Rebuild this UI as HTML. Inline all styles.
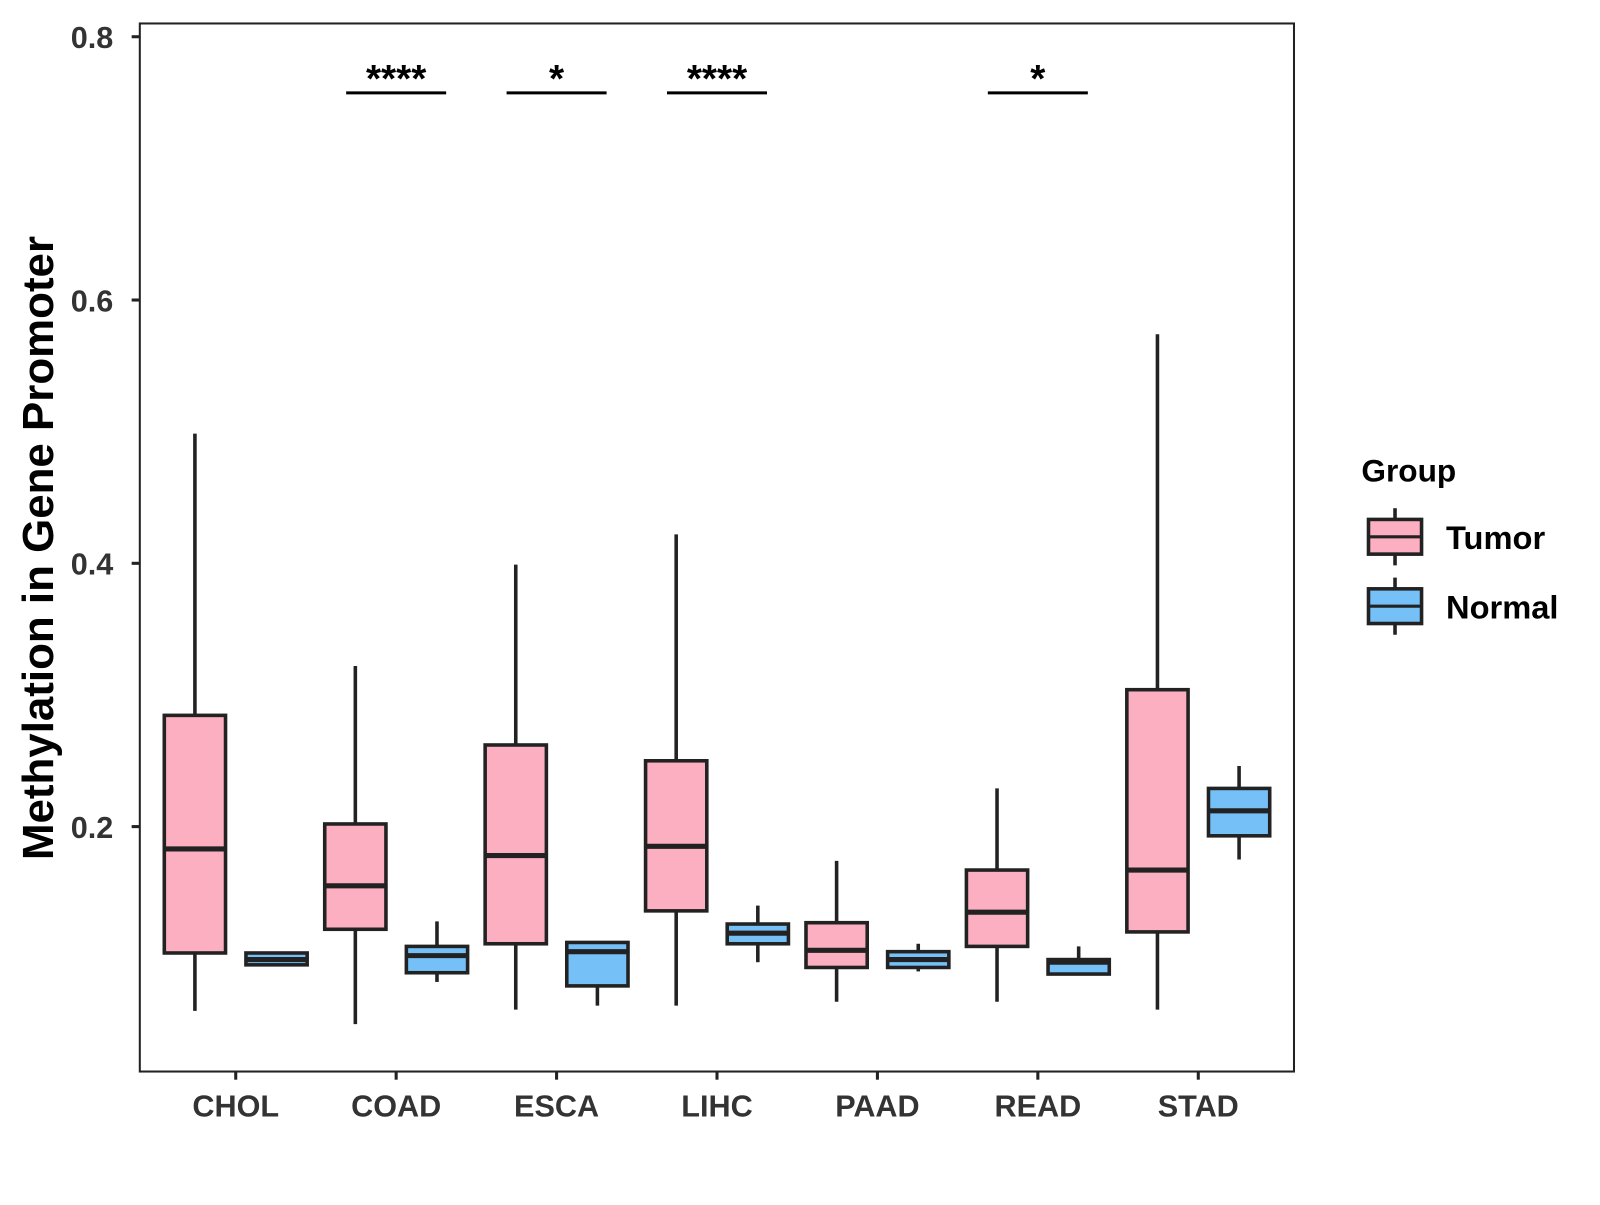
<!DOCTYPE html>
<html><head><meta charset="utf-8"><style>
body{margin:0;background:#fff;}
svg text{font-family:"Liberation Sans",Arial,sans-serif;font-weight:bold;}
</style></head><body>
<svg id="chart" width="1600" height="1200" xmlns="http://www.w3.org/2000/svg">
<g transform="scale(1.0205)">
<rect x="137" y="23" width="1131" height="1027" fill="none" stroke="#222" stroke-width="2"/>
<g id="marks"></g>
<text transform="translate(52,537) rotate(-90)" text-anchor="middle" font-size="43" fill="#000">Methylation in Gene Promoter</text>
<g>
<text x="1334" y="472" font-size="31" fill="#000">Group</text>
<g>
<line x1="1367" y1="498" x2="1367" y2="554" stroke="#222" stroke-width="3.5"/>
<rect x="1341" y="509" width="52" height="34" fill="#fbafc1" stroke="#222" stroke-width="3.5"/>
<line x1="1341" y1="526" x2="1393" y2="526" stroke="#222" stroke-width="3"/>
<text x="1417" y="538" font-size="32" fill="#000">Tumor</text></g>
<g>
<line x1="1367" y1="566" x2="1367" y2="622" stroke="#222" stroke-width="3.5"/>
<rect x="1341" y="577" width="52" height="34" fill="#75c0f6" stroke="#222" stroke-width="3.5"/>
<line x1="1341" y1="594" x2="1393" y2="594" stroke="#222" stroke-width="3"/>
<text x="1417" y="606" font-size="32" fill="#000">Normal</text></g>
</g>
</g>
</svg>
<script>
const categories=["CHOL","COAD","ESCA","LIHC","PAAD","READ","STAD"];
// [low, q1, median, q3, high]
const tumorStats=[[0.060,0.104,0.183,0.2845,0.4985],[0.050,0.122,0.155,0.202,0.322],[0.061,0.111,0.178,0.262,0.399],[0.064,0.136,0.185,0.250,0.422],[0.067,0.093,0.106,0.127,0.174],[0.067,0.109,0.135,0.167,0.229],[0.061,0.120,0.167,0.304,0.574]];
const normalStats=[[0.095,0.095,0.099,0.104,0.104],[0.082,0.089,0.102,0.109,0.128],[0.064,0.079,0.105,0.112,0.112],[0.097,0.111,0.119,0.126,0.140],[0.090,0.093,0.099,0.105,0.111],[0.088,0.088,0.097,0.099,0.109],[0.175,0.193,0.212,0.229,0.246]];
const yTicks=[0.2,0.4,0.6,0.8];
const yTickLabels=["0.2","0.4","0.6","0.8"];
const sigLabels=["","****","*","****","","*",""];

const NS="http://www.w3.org/2000/svg";
const g=document.getElementById('marks');
function y(v){return 36+(0.8-v)*1290;}
function xc(i){return 231+i*157.2;}
function el(tag,attrs,parent){const e=document.createElementNS(NS,tag);for(const k in attrs)e.setAttribute(k,attrs[k]);(parent||g).appendChild(e);return e;}

yTicks.forEach((t,i)=>{
  const tk=el('line',{x1:129,x2:137,y1:y(t),y2:y(t),stroke:'#222','stroke-width':3});
  
  
  const tx=el('text',{x:111,y:y(t)+11,'text-anchor':'end','font-size':30,fill:'#333'});
  tx.textContent=yTickLabels[i];
  
  
});
categories.forEach((c,i)=>{
  const tk=el('line',{x1:xc(i),x2:xc(i),y1:1050,y2:1058,stroke:'#222','stroke-width':3});
  
  
  const tx=el('text',{x:xc(i),y:1094,'text-anchor':'middle','font-size':30,fill:'#333'});
  tx.textContent=c;
  
  
});
function box(cx,s,fill,name){
  const grp=el('g',{});
  
  
  el('line',{x1:cx,x2:cx,y1:y(s[4]),y2:y(s[0]),stroke:'#222','stroke-width':3.5},grp);
  el('rect',{x:cx-30,y:y(s[3]),width:60,height:Math.max(1,y(s[1])-y(s[3])),fill:fill,stroke:'#222','stroke-width':3.5},grp);
  el('line',{x1:cx-30,x2:cx+30,y1:y(s[2]),y2:y(s[2]),stroke:'#222','stroke-width':5},grp);
}
categories.forEach((c,i)=>{
  box(xc(i)-40,tumorStats[i],'#fbafc1','box-tumor-'+c.toLowerCase());
  box(xc(i)+40,normalStats[i],'#75c0f6','box-normal-'+c.toLowerCase());
  if(sigLabels[i]){
    const l=el('line',{x1:xc(i)-49,x2:xc(i)+49,y1:91,y2:91,stroke:'#000','stroke-width':3});
    
    
    const t=el('text',{x:xc(i),y:90,'text-anchor':'middle','font-size':38,fill:'#000'});
    t.textContent=sigLabels[i];
    
    
  }
});
</script>
</body></html>
